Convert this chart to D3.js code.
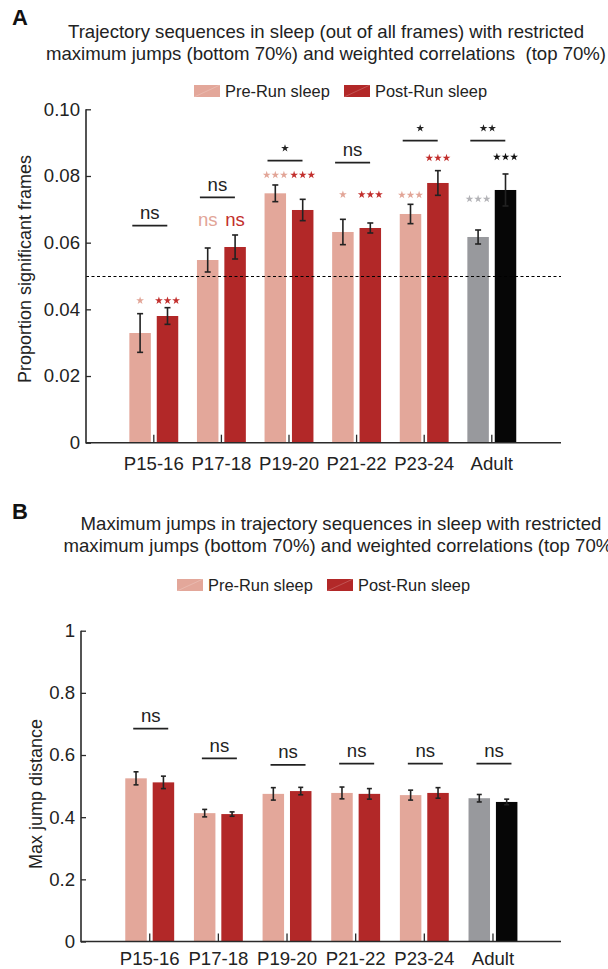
<!DOCTYPE html>
<html>
<head>
<meta charset="utf-8">
<script src="https://cdn.jsdelivr.net/npm/d3@7"></script>
<style>
  html, body { margin: 0; padding: 0; background: #fff; }
  svg { display: block; font-family: "Liberation Sans", Arial, Helvetica, sans-serif; }
</style>
</head>
<body>
<svg id="fig" width="608" height="969"></svg>
<script>
// ---- data ----
const categories = ["P15-16", "P17-18", "P19-20", "P21-22", "P23-24", "Adult"];
const seriesNames = ["Pre-Run sleep", "Post-Run sleep"];

// Panel A: proportion of significant frames (mean ± SEM)
const propPre      = [0.0329, 0.0548, 0.0748, 0.0632, 0.0686, 0.0617];
const propPreErr   = [0.0058, 0.0036, 0.0025, 0.0038, 0.0029, 0.0021];
const propPost     = [0.0380, 0.0587, 0.0698, 0.0644, 0.0779, 0.0758];
const propPostErr  = [0.0025, 0.0036, 0.0032, 0.0015, 0.0037, 0.0048];
const chanceLevel  = 0.05;
const propTicks    = [0, 0.02, 0.04, 0.06, 0.08, 0.10];
const propTickText = ["0", "0.02", "0.04", "0.06", "0.08", "0.10"];

// significance vs chance for each bar, and the level its mark sits at
const sigPre        = ["*", "ns", "***", "*", "***", "***"];
const sigPost       = ["***", "ns", "***", "***", "***", "***"];
const sigPreLevel   = [0.0428, 0.0668, 0.0805, 0.0746, 0.0745, 0.0733];
const sigPostLevel  = [0.0428, 0.0668, 0.0805, 0.0746, 0.0856, 0.0859];
// Pre vs Post comparison per age group
const pairSigA      = ["ns", "ns", "*", "ns", "*", "**"];
const pairLevelA    = [0.0651, 0.0736, 0.0846, 0.0840, 0.0906, 0.0906];

// Panel B: maximum jump distance (mean ± SEM)
const jumpPre      = [0.525, 0.413, 0.475, 0.478, 0.471, 0.461];
const jumpPreErr   = [0.021, 0.012, 0.020, 0.019, 0.016, 0.012];
const jumpPost     = [0.512, 0.410, 0.484, 0.475, 0.478, 0.449];
const jumpPostErr  = [0.020, 0.007, 0.012, 0.017, 0.017, 0.009];
const jumpTicks    = [0, 0.2, 0.4, 0.6, 0.8, 1];
const jumpTickText = ["0", "0.2", "0.4", "0.6", "0.8", "1"];
const pairSigB     = ["ns", "ns", "ns", "ns", "ns", "ns"];
const pairLevelB   = [0.685, 0.589, 0.568, 0.572, 0.572, 0.572];

// ---- styling ----
const preColor  = ["#E3A79A", "#E3A79A", "#E3A79A", "#E3A79A", "#E3A79A", "#98999D"];
const postColor = ["#B22828", "#B22828", "#B22828", "#B22828", "#B22828", "#060606"];
const preStarColor  = ["#E2A597", "#E2A597", "#E2A597", "#E2A597", "#E2A597", "#B3B3B7"];
const postStarColor = ["#C22E2C", "#C22E2C", "#C22E2C", "#C22E2C", "#C22E2C", "#111111"];
const ink = "#222";
const axisInk = "#2a2a2a";
const fs = { title: 18.6, tick: 18.6, cat: 18.6, legend: 16.4, ylab: 18, sig: 18.6 };

const svg = d3.select("#fig");

function stars(g, n, cx, cy, color) {
  const step = 8.6;
  const sym = d3.symbol().type(d3.symbolStar).size(19);
  for (let i = 0; i < n; i++) {
    g.append("path")
      .attr("d", sym())
      .attr("transform", `translate(${cx + (i - (n - 1) / 2) * step},${cy + 0.6})`)
      .attr("fill", color);
  }
}

function sigMark(g, label, cx, cy, color, fontSize) {
  if (/^\*+$/.test(label)) {
    stars(g, label.length, cx, cy, color);
  } else {
    g.append("text")
      .attr("x", cx).attr("y", cy)
      .attr("text-anchor", "middle")
      .attr("dominant-baseline", "central")
      .attr("font-size", fontSize)
      .attr("fill", color)
      .text(label);
  }
}

function legend(g, x0, y0, x1) {
  const entries = [
    { name: seriesNames[0], color: preColor[0], x: x0 },
    { name: seriesNames[1], color: postColor[0], x: x1 }
  ];
  entries.forEach(e => {
    g.append("rect").attr("x", e.x).attr("y", y0 - 6).attr("width", 26).attr("height", 12).attr("fill", e.color);
    g.append("line").attr("x1", e.x).attr("y1", y0 + 6).attr("x2", e.x + 26).attr("y2", y0 - 6)
      .attr("stroke", "#fff").attr("stroke-opacity", 0.25).attr("stroke-width", 0.8);
    g.append("text").attr("x", e.x + 31).attr("y", y0).attr("dominant-baseline", "central")
      .attr("font-size", fs.legend).attr("fill", ink).text(e.name);
  });
}

function panel(cfg) {
  const g = svg.append("g");
  const x = d3.scaleBand().domain(categories).range(cfg.bandRange).padding(0);
  const inner = d3.scalePoint().domain(["pre", "post"]).range([-13.7, 13.7]);
  const y = d3.scaleLinear().domain(cfg.yDomain).range([cfg.y0, cfg.y1]);
  const cx = c => x(c) + x.bandwidth() / 2;
  const barW = 21.5;

  // panel letter and title
  g.append("text").attr("x", 12).attr("y", cfg.letterY).attr("font-size", 22).attr("font-weight", "bold")
    .attr("fill", "#111").text(cfg.letter);
  cfg.title.forEach((line, i) => {
    g.append("text").attr("x", cfg.titleX).attr("y", cfg.titleY + i * 22).attr("text-anchor", "middle")
      .attr("font-size", fs.title).attr("fill", ink).style("white-space", "pre").text(line);
  });
  legend(g, cfg.legendX[0], cfg.legendY, cfg.legendX[1]);

  // bars
  const rows = categories.map((c, i) => [
    { c, i, key: "pre", v: cfg.pre[i], e: cfg.preErr[i], color: preColor[i] },
    { c, i, key: "post", v: cfg.post[i], e: cfg.postErr[i], color: postColor[i] }
  ]).flat();

  g.append("g").selectAll("rect").data(rows).join("rect")
    .attr("x", d => cx(d.c) + inner(d.key) - barW / 2)
    .attr("y", d => y(d.v))
    .attr("width", barW)
    .attr("height", d => y(0) - y(d.v))
    .attr("fill", d => d.color);

  // chance line
  if (cfg.chance != null) {
    g.append("line").attr("x1", cfg.axisX).attr("x2", cfg.axisEnd)
      .attr("y1", Math.round(y(cfg.chance)) + 0.5).attr("y2", Math.round(y(cfg.chance)) + 0.5)
      .attr("stroke", "#000").attr("stroke-width", 1).attr("stroke-dasharray", "3,2.5");
  }

  // error bars
  const eb = g.append("g").attr("stroke", ink).attr("stroke-width", 1.6);
  rows.forEach(d => {
    const bx = cx(d.c) + inner(d.key);
    const cap = cfg.cap;
    eb.append("line").attr("x1", bx).attr("x2", bx).attr("y1", y(d.v - d.e)).attr("y2", y(d.v + d.e));
    eb.append("line").attr("x1", bx - cap / 2).attr("x2", bx + cap / 2).attr("y1", y(d.v + d.e)).attr("y2", y(d.v + d.e));
    eb.append("line").attr("x1", bx - cap / 2).attr("x2", bx + cap / 2).attr("y1", y(d.v - d.e)).attr("y2", y(d.v - d.e));
  });

  // y axis (ticks pointing inward)
  const yAxis = d3.axisRight(y).tickValues(cfg.ticks).tickSize(5)
    .tickFormat((d, i) => cfg.tickText[i]);
  const ya = g.append("g").attr("transform", `translate(${cfg.axisX},0)`).call(yAxis);
  ya.select(".domain").remove();
  ya.selectAll(".tick line").attr("stroke", axisInk).attr("stroke-width", 1.3);
  ya.selectAll(".tick text").attr("x", -6).attr("text-anchor", "end").attr("font-size", fs.tick)
    .attr("fill", ink).attr("font-family", "Liberation Sans, Arial, sans-serif");
  g.append("line").attr("x1", cfg.axisX).attr("x2", cfg.axisX).attr("y1", y(cfg.yDomain[1])).attr("y2", y(0) + 0.7)
    .attr("stroke", axisInk).attr("stroke-width", 1.6);

  // x axis (ticks pointing up)
  const xAxis = d3.axisTop(x).tickSize(8).tickFormat("");
  const xa = g.append("g").attr("transform", `translate(0,${y(0)})`).call(xAxis);
  xa.select(".domain").remove();
  xa.selectAll(".tick line").attr("stroke", axisInk).attr("stroke-width", 1.3);
  g.append("line").attr("x1", cfg.axisX).attr("x2", cfg.axisEnd).attr("y1", y(0)).attr("y2", y(0))
    .attr("stroke", axisInk).attr("stroke-width", 1.6);
  g.append("g").selectAll("text").data(categories).join("text")
    .attr("x", d => cx(d)).attr("y", y(0) + cfg.catDy).attr("text-anchor", "middle")
    .attr("dominant-baseline", "central").attr("font-size", fs.cat).attr("fill", ink).text(d => d);

  // y label
  g.append("text").attr("transform", `translate(${cfg.yLabelX},${cfg.yLabelY}) rotate(-90)`)
    .attr("text-anchor", "middle").attr("dominant-baseline", "central")
    .attr("font-size", fs.ylab).attr("fill", ink).text(cfg.yLabel);

  // pairwise comparisons
  categories.forEach((c, i) => {
    const mx = cx(c) + cfg.pairShift;
    const ly = y(cfg.pairLevel[i]);
    g.append("line").attr("x1", mx - 17.5).attr("x2", mx + 17.5).attr("y1", ly).attr("y2", ly)
      .attr("stroke", ink).attr("stroke-width", 1.8);
    const lab = cfg.pairSig[i];
    sigMark(g, lab, mx, /^\*+$/.test(lab) ? ly - 13 : ly - 13, ink, fs.sig);
  });

  // per-bar marks vs chance
  if (cfg.barSig) {
    categories.forEach((c, i) => {
      sigMark(g, cfg.barSig.pre[i], cx(c) + inner("pre"), y(cfg.barSig.preLevel[i]), preStarColor[i], fs.sig);
      sigMark(g, cfg.barSig.post[i], cx(c) + inner("post"), y(cfg.barSig.postLevel[i]), postStarColor[i], fs.sig);
    });
  }
}

panel({
  letter: "A", letterY: 25,
  title: ["Trajectory sequences in sleep (out of all frames) with restricted",
          "maximum jumps (bottom 70%) and weighted correlations  (top 70%)"],
  titleX: 326, titleY: 38,
  legendX: [194, 344], legendY: 91,
  bandRange: [120, 525.6],
  yDomain: [0, 0.1], y0: 442.7, y1: 109.3,
  axisX: 86, axisEnd: 561, catDy: 21,
  ticks: propTicks, tickText: propTickText,
  pre: propPre, preErr: propPreErr, post: propPost, postErr: propPostErr,
  chance: chanceLevel, cap: 6,
  yLabel: "Proportion significant frames", yLabelX: 25, yLabelY: 269,
  pairSig: pairSigA, pairLevel: pairLevelA, pairShift: -4,
  barSig: { pre: sigPre, post: sigPost, preLevel: sigPreLevel, postLevel: sigPostLevel }
});

panel({
  letter: "B", letterY: 519,
  title: ["Maximum jumps in trajectory sequences in sleep with restricted",
          "maximum jumps (bottom 70%) and weighted correlations (top 70%)"],
  titleX: 341, titleY: 530,
  legendX: [177, 327], legendY: 585,
  bandRange: [115.4, 527.3],
  yDomain: [0, 1], y0: 941.5, y1: 630.7,
  axisX: 81, axisEnd: 561, catDy: 16.5,
  ticks: jumpTicks, tickText: jumpTickText,
  pre: jumpPre, preErr: jumpPreErr, post: jumpPost, postErr: jumpPostErr,
  chance: null, cap: 5,
  yLabel: "Max jump distance", yLabelX: 36, yLabelY: 794,
  pairSig: pairSigB, pairLevel: pairLevelB, pairShift: 1,
  barSig: null
});
</script>
</body>
</html>
